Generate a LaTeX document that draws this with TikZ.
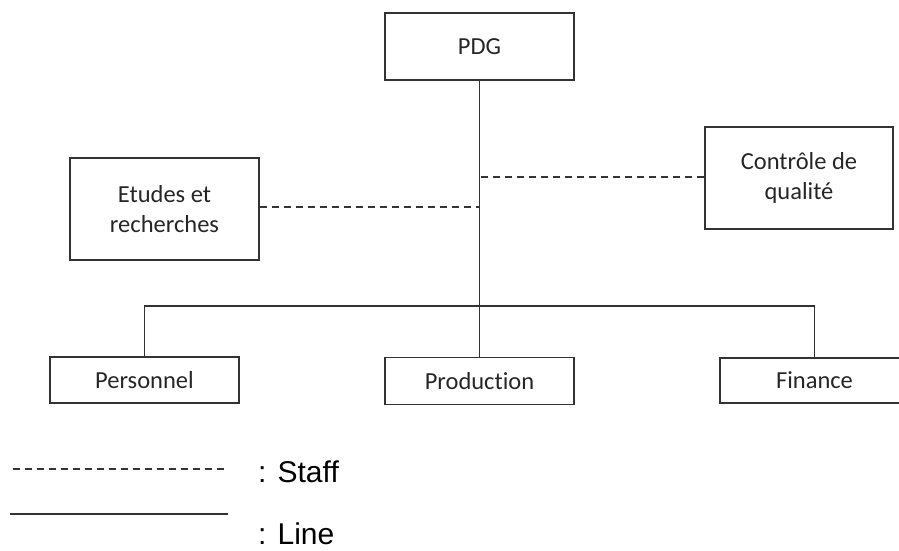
\documentclass[tikz,border=0pt]{standalone}
\usepackage{fontspec}
\setmainfont{Carlito}[Ligatures=NoCommon]
\newfontfamily\legendfont{Liberation Sans}
\definecolor{ink}{HTML}{262626}
\definecolor{stroke}{HTML}{333333}
\begin{document}
\begin{tikzpicture}[x=1pt,y=-1pt,
  orgbox/.style={draw=stroke,line width=1.1pt,inner sep=0pt,align=center,text=ink,
    font=\fontsize{24.5}{30}\selectfont,minimum width=189pt},
  linelink/.style={draw=stroke,line width=1.1pt},
  stafflink/.style={draw=stroke,line width=1.1pt,dash pattern=on 7pt off 5pt},
  legendtext/.style={anchor=base west,inner sep=0pt,text depth=0pt,text=black,font=\legendfont\fontsize{30}{34}\selectfont}]
\useasboundingbox (0,0) rectangle (899,551);
\node[orgbox,minimum height=67pt] (pdg) at (479.5,46.5) {PDG};
\node[orgbox,minimum height=102pt] (etudes) at (164.5,209) {Etudes et\\recherches};
\node[orgbox,minimum height=102pt,minimum width=188pt] (ctrl) at (799,178) {Contrôle de\\qualité};
\node[orgbox,minimum height=46pt] (pers) at (144.5,380) {Personnel};
\node[orgbox,minimum height=47pt] (prod) at (479.5,381) {Production};
\node[orgbox,minimum height=45pt] (fin) at (814.5,380.5) {Finance};
% line links
\draw[linelink] (pdg.south) -- (prod.north);
\coordinate (bus) at (479.5,306);
\draw[linelink] (pers.north) |- (bus) -| (fin.north);
% staff links
\draw[stafflink] (etudes.east) ++(0,-2) coordinate (e1) -- (e1 -| pdg.south);
\draw[stafflink] (ctrl.west) ++(0,-1) coordinate (c1) -- (c1 -| pdg.south);
% legend
\coordinate (ls1) at (13,469);
\coordinate (ls2) at (228,469);
\coordinate (ll1) at (10,514);
\coordinate (ll2) at (228,514);
\draw[stafflink] (ls1) -- (ls2);
\draw[linelink] (ll1) -- (ll2);
\node[legendtext] (staff) at (258,482) {: Staff};
\node[legendtext] (line) at (258,544) {: Line};
\end{tikzpicture}
\end{document}
